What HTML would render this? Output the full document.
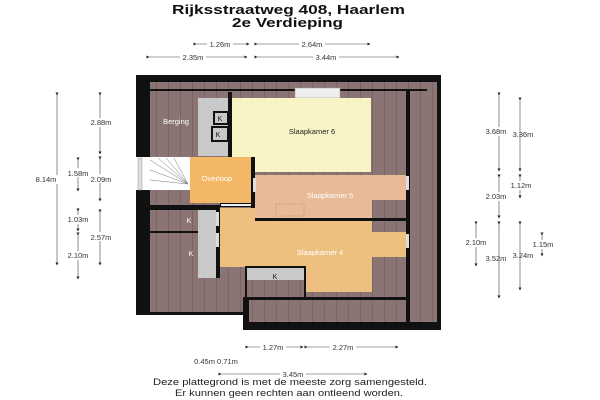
<!DOCTYPE html>
<html><head><meta charset="utf-8"><style>
body{margin:0;background:#fff;width:600px;height:400px;overflow:hidden}
svg{display:block}
text{font-family:"Liberation Sans",sans-serif}
</style></head><body>
<svg width="600" height="400" viewBox="0 0 600 400">
<defs>
<pattern id="pl" width="12" height="8" patternUnits="userSpaceOnUse"><rect width="12" height="8" fill="#8b7474"/><line x1="0.5" y1="0" x2="0.5" y2="8" stroke="#7a6464" stroke-width="1"/></pattern>
<marker id="a" markerWidth="5" markerHeight="5" refX="2.5" refY="2.5" orient="auto"><path d="M0,0L5,2.5L0,5Z" fill="#222"/></marker>
</defs>
<!-- title -->
<text x="172" y="14" font-size="13" font-weight="bold" fill="#111" textLength="233" lengthAdjust="spacingAndGlyphs">Rijksstraatweg 408, Haarlem</text>
<text x="232" y="27" font-size="13" font-weight="bold" fill="#111" textLength="111" lengthAdjust="spacingAndGlyphs">2e Verdieping</text>
<!-- outer -->
<path d="M136,75H441V330H243V315H136Z" fill="#111"/>
<rect x="150" y="82" width="287" height="230" fill="url(#pl)"/>
<rect x="249" y="300" width="157" height="22" fill="url(#pl)"/>
<rect x="410" y="82" width="27" height="240" fill="url(#pl)"/>
<rect x="150" y="89" width="277" height="2" fill="#111"/>
<rect x="406" y="91" width="4" height="232" fill="#111"/>
<rect x="243" y="297" width="167" height="3" fill="#111"/>
<rect x="243" y="297" width="6" height="33" fill="#111"/>
<rect x="150" y="205" width="70" height="5" fill="#111"/>
<rect x="150" y="231" width="50" height="2" fill="#111"/>
<!-- top window -->
<rect x="295" y="88" width="45" height="10" fill="#eee" stroke="#999" stroke-width="0.5"/>
<!-- Berging grey -->
<rect x="198" y="98" width="30" height="58" fill="#c9c9c9"/>
<rect x="228" y="92" width="4" height="66" fill="#111"/>
<rect x="214" y="112" width="14" height="12" fill="#c9c9c9" stroke="#111" stroke-width="2"/>
<rect x="212" y="127" width="16" height="14" fill="#c9c9c9" stroke="#111" stroke-width="2"/>
<text x="220" y="121" font-size="7" text-anchor="middle" fill="#111">K</text>
<text x="218" y="137" font-size="7" text-anchor="middle" fill="#111">K</text>
<text x="176" y="124" font-size="7.5" text-anchor="middle" fill="#fff">Berging</text>
<!-- Slaapkamer 6 -->
<rect x="232" y="98" width="139" height="74" fill="#f8f4c6"/>
<text x="312" y="134" font-size="7.5" text-anchor="middle" fill="#222">Slaapkamer 6</text>
<!-- stairs -->
<rect x="136" y="157" width="54" height="33" fill="#fff"/>
<rect x="138" y="158" width="4" height="32" fill="#ddd" stroke="#999" stroke-width="0.5"/>
<g stroke="#777" stroke-width="0.5"><line x1="150" y1="160" x2="188" y2="184"/><line x1="158" y1="158" x2="188" y2="184"/><line x1="166" y1="158" x2="188" y2="184"/><line x1="174" y1="158" x2="188" y2="184"/><line x1="150" y1="170" x2="188" y2="184"/><line x1="150" y1="180" x2="188" y2="184"/></g>
<rect x="150" y="190" width="40" height="15" fill="url(#pl)"/>
<rect x="190" y="181" width="4" height="10" fill="#111"/>
<!-- Overloop -->
<rect x="190" y="157" width="61" height="46" fill="#f2b866"/>
<rect x="251" y="157" width="4" height="64" fill="#111"/>
<rect x="220" y="203" width="31" height="4" fill="#111"/>
<rect x="221" y="204" width="30" height="2" fill="#eee"/>
<text x="217" y="181" font-size="7.5" text-anchor="middle" fill="#fff">Overloop</text>
<!-- Slaapkamer 5 -->
<rect x="255" y="175" width="117" height="43" fill="#e9ba96"/>
<rect x="372" y="175" width="34" height="25" fill="#e9ba96"/>
<rect x="255" y="218" width="151" height="3" fill="#111"/>
<rect x="406" y="176" width="3" height="14" fill="#ddd"/>
<rect x="253" y="178" width="3" height="14" fill="#ddd"/>
<rect x="276" y="204" width="28" height="12" fill="none" stroke="#b08870" stroke-width="0.5" stroke-dasharray="2,1"/>
<text x="330" y="198" font-size="7.5" text-anchor="middle" fill="#fff">Slaapkamer 5</text>
<!-- Slaapkamer 4 -->
<path d="M218,208H255V221H372V232H406V257H372V292H305V267H218Z" fill="#eec080"/>
<rect x="406" y="234" width="3" height="14" fill="#ddd"/>
<!-- left grey corridor -->
<rect x="198" y="210" width="20" height="68" fill="#c9c9c9"/>
<rect x="216" y="208" width="4" height="70" fill="#111"/>
<rect x="216" y="212" width="3" height="14" fill="#ddd"/>
<rect x="216" y="233" width="3" height="14" fill="#ddd"/>
<text x="189" y="223" font-size="7" text-anchor="middle" fill="#fff">K</text>
<text x="191" y="256" font-size="7" text-anchor="middle" fill="#fff">K</text>
<!-- bottom K -->
<rect x="246" y="267" width="59" height="31" fill="url(#pl)" stroke="#111" stroke-width="2"/>
<rect x="247" y="268" width="57" height="12" fill="#c9c9c9"/>
<text x="275" y="279" font-size="7" text-anchor="middle" fill="#111">K</text>
<text x="320" y="255" font-size="7.5" text-anchor="middle" fill="#fff">Slaapkamer 4</text>
<!-- dimension lines -->
<g stroke="#444" stroke-width="0.6" marker-start="url(#a)" marker-end="url(#a)" fill="none">
<line x1="195" y1="44" x2="248" y2="44"/><line x1="256" y1="44" x2="369" y2="44"/>
<line x1="148" y1="57" x2="246" y2="57"/><line x1="256" y1="57" x2="398" y2="57"/>
<line x1="247" y1="347" x2="302" y2="347"/><line x1="306" y1="347" x2="397" y2="347"/>
<line x1="220" y1="374" x2="366" y2="374"/>
<line x1="57" y1="94" x2="57" y2="264"/>
<line x1="100" y1="94" x2="100" y2="153"/><line x1="100" y1="158" x2="100" y2="200"/><line x1="100" y1="211" x2="100" y2="264"/>
<line x1="78" y1="159" x2="78" y2="190"/><line x1="78" y1="210" x2="78" y2="230"/><line x1="78" y1="234" x2="78" y2="278"/>
<line x1="499" y1="94" x2="499" y2="170"/><line x1="499" y1="176" x2="499" y2="217"/><line x1="499" y1="223" x2="499" y2="297"/>
<line x1="520" y1="99" x2="520" y2="170"/><line x1="520" y1="176" x2="520" y2="197"/><line x1="520" y1="223" x2="520" y2="289"/>
<line x1="476" y1="223" x2="476" y2="265"/><line x1="542" y1="234" x2="542" y2="255"/>
</g>
<g font-size="7.5" fill="#333" text-anchor="middle">
<rect x="207" y="39" width="26" height="9" fill="#fff"/><text x="220" y="47">1.26m</text>
<rect x="299" y="39" width="26" height="9" fill="#fff"/><text x="312" y="47">2.64m</text>
<rect x="180" y="52" width="26" height="9" fill="#fff"/><text x="193" y="60">2.35m</text>
<rect x="313" y="52" width="26" height="9" fill="#fff"/><text x="326" y="60">3.44m</text>
<rect x="260" y="342" width="26" height="9" fill="#fff"/><text x="273" y="350">1.27m</text>
<rect x="330" y="342" width="26" height="9" fill="#fff"/><text x="343" y="350">2.27m</text>
<text x="216" y="364">0.45m 0.71m</text>
<rect x="280" y="369" width="26" height="9" fill="#fff"/><text x="293" y="377">3.45m</text>
<rect x="34" y="175" width="26" height="9" fill="#fff"/><text x="46" y="182">8.14m</text>
<rect x="88" y="118" width="26" height="9" fill="#fff"/><text x="101" y="125">2.88m</text>
<rect x="88" y="174" width="26" height="9" fill="#fff"/><text x="101" y="182">2.09m</text>
<rect x="88" y="232" width="26" height="9" fill="#fff"/><text x="101" y="240">2.57m</text>
<rect x="65" y="168" width="26" height="9" fill="#fff"/><text x="78" y="176">1.58m</text>
<rect x="65" y="215" width="26" height="9" fill="#fff"/><text x="78" y="222">1.03m</text>
<rect x="65" y="251" width="26" height="9" fill="#fff"/><text x="78" y="258">2.10m</text>
<rect x="486" y="127" width="26" height="9" fill="#fff"/><text x="496" y="134">3.68m</text>
<text x="523" y="137">3.36m</text>
<rect x="508" y="181" width="26" height="9" fill="#fff"/><text x="521" y="188">1.12m</text>
<rect x="486" y="192" width="26" height="9" fill="#fff"/><text x="496" y="199">2.03m</text>
<rect x="463" y="238" width="26" height="9" fill="#fff"/><text x="476" y="245">2.10m</text>
<rect x="530" y="240" width="26" height="9" fill="#fff"/><text x="543" y="247">1.15m</text>
<text x="496" y="261">3.52m</text>
<text x="523" y="258">3.24m</text>
</g>
<text x="153" y="385" font-size="9" fill="#222" textLength="274" lengthAdjust="spacingAndGlyphs">Deze plattegrond is met de meeste zorg samengesteld.</text>
<text x="175" y="396" font-size="9" fill="#222" textLength="228" lengthAdjust="spacingAndGlyphs">Er kunnen geen rechten aan ontleend worden.</text>
</svg>
</body></html>
